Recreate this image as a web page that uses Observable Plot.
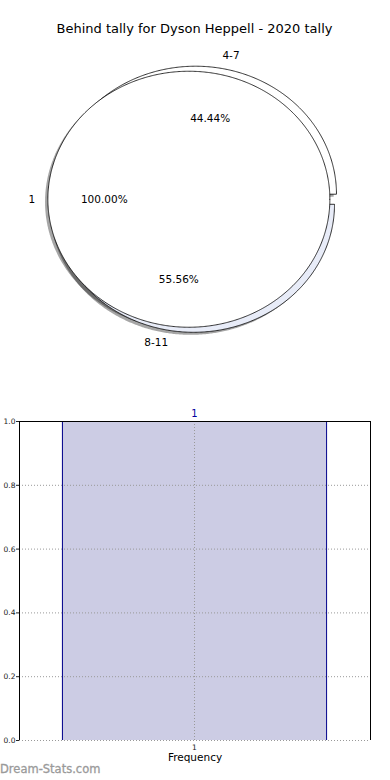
<!DOCTYPE html>
<html><head><meta charset="utf-8">
<script src="https://cdn.jsdelivr.net/npm/d3@7"></script>
<script src="https://cdn.jsdelivr.net/npm/@observablehq/plot@0.6"></script>
<style>
body{margin:0;background:#fff;font-family:"DejaVu Sans",sans-serif;}
#wrap{position:relative;width:390px;height:780px;overflow:hidden;}
#title{position:absolute;top:21px;left:0;width:389px;text-align:center;font-size:13px;color:#000;}
#pie{position:absolute;top:0;left:0;}
#bar{position:absolute;top:400px;left:0;}
#wm{position:absolute;top:762px;left:0;font-size:11.5px;color:#9a9a9a;font-weight:normal;-webkit-text-stroke:0.3px #9a9a9a;}
</style></head><body>
<div id="wrap"><div id="pie"></div><div id="title">Behind tally for Dyson Heppell - 2020 tally</div><div id="bar"></div><div id="wm">Dream-Stats.com</div></div>
<script>
// ---- data ----
const outerLabels = ["4-7", "8-11"];
const outerValues = [4, 5];
const innerLabels = ["1"];
const innerValues = [1];
const barCategories = ["1"];
const barFrequencies = [1];
const yTicks = [0, 0.2, 0.4, 0.6, 0.8, 1.0];

// ---- styles ----
const outerFills = ["#ffffff", "#e8ecf8"];
const innerFills = ["#ffffff"];
const EXPLODE = 0.04, RADIUS = 1, SHADOW = 0.02;

function wedges(labels, values, fills, tag) {
  const total = d3.sum(values);
  let a = 0;
  return labels.map((lab, i) => {
    const span = values[i] / total * 360;
    const a0 = a, a1 = a + span; a = a1;
    const mid = (a0 + a1) / 2 * Math.PI / 180;
    return {key: tag + i, label: lab, pct: values[i] / total * 100, a0, a1, mid,
      cx: EXPLODE * Math.cos(mid), cy: EXPLODE * Math.sin(mid), fill: fills[i]};
  });
}
function poly(w, ox = 0, oy = 0) {
  const pts = [];
  const full = w.a1 - w.a0 >= 359.999;
  const cx = w.cx + ox, cy = w.cy + oy;
  if (!full) pts.push({x: cx, y: cy});
  for (let t = w.a0; t <= w.a1 + 1e-9; t += 0.5) {
    const r = t * Math.PI / 180;
    pts.push({x: cx + RADIUS * Math.cos(r), y: cy + RADIUS * Math.sin(r)});
  }
  const r1 = w.a1 * Math.PI / 180;
  pts.push({x: cx + RADIUS * Math.cos(r1), y: cy + RADIUS * Math.sin(r1)});
  pts.push(full ? pts[0] : {x: cx, y: cy});
  return pts;
}
const outer = wedges(outerLabels, outerValues, outerFills, "o");
const inner = wedges(innerLabels, innerValues, innerFills, "i");
const all = [...outer, ...inner];

const shadowMarks = all.map(w => Plot.line(poly(w, -SHADOW, -SHADOW), {x: "x", y: "y", fill: "#000", fillOpacity: 0.35, stroke: "none", curve: "linear"}));
const wedgeMarks = all.map(w => Plot.line(poly(w), {x: "x", y: "y", fill: w.fill, stroke: "#000", strokeWidth: 0.8, curve: "linear"}));

const labelData = all.map(w => ({
  label: w.label,
  x: w.cx + 1.1 * Math.cos(w.mid), y: w.cy + 1.1 * Math.sin(w.mid),
  anchor: Math.cos(w.mid) > 0 ? "start" : "end"
}));
const pctData = all.map(w => ({
  label: w.pct.toFixed(2) + "%",
  x: w.cx + 0.6 * Math.cos(w.mid), y: w.cy + 0.6 * Math.sin(w.mid)
}));

const pie = Plot.plot({
  width: 390, height: 380, margin: 0,
  style: {fontFamily: "DejaVu Sans", background: "transparent"},
  x: {domain: [-194 / 141, 196 / 141], axis: null},
  y: {domain: [(198.75 - 380) / 128, 198.75 / 128], axis: null},
  marks: [
    ...shadowMarks,
    ...wedgeMarks,
    Plot.text(labelData.filter(d => d.anchor === "start"), {x: "x", y: "y", text: "label", textAnchor: "start", fontSize: 10.5, fill: "#000"}),
    Plot.text(labelData.filter(d => d.anchor === "end"), {x: "x", y: "y", text: "label", textAnchor: "end", fontSize: 10.5, fill: "#000", dx: 1.5}),
    Plot.text(pctData, {x: "x", y: "y", text: "label", fontSize: 10.5, fill: "#000"})
  ]
});
document.getElementById("pie").appendChild(pie);

// ---- bar chart ----
const barData = barCategories.map((c, i) => ({cat: c, pos: i + 1, f: barFrequencies[i]}));
const xDom = [0.47, 1.533];
const bar = Plot.plot({
  width: 390, height: 380,
  marginTop: 21, marginBottom: 40, marginLeft: 19, marginRight: 20,
  style: {fontFamily: "DejaVu Sans", background: "transparent"},
  x: {domain: xDom, axis: null},
  y: {domain: [0, 1], axis: null},
  marks: [
    Plot.rectY(barData, {x1: d => d.pos - 0.4, x2: d => d.pos + 0.4, y1: 0, y2: "f", fill: "#ccccE4"}),
    Plot.ruleX(barData, {x: d => d.pos - 0.4, y1: 0, y2: "f", stroke: "#00008b", strokeWidth: 1}),
    Plot.ruleX(barData, {x: d => d.pos + 0.4, y1: 0, y2: "f", stroke: "#00008b", strokeWidth: 1}),
    Plot.gridY(yTicks.slice(0, -1), {stroke: "#999", strokeOpacity: 1, strokeDasharray: "1,2", strokeWidth: 1}),
    Plot.gridX(barData.map(d => d.pos), {stroke: "#999", strokeOpacity: 1, strokeDasharray: "1,2", strokeWidth: 1}),
    Plot.ruleX(xDom, {stroke: "#000", strokeWidth: 1}),
    Plot.ruleY([1], {stroke: "#000", strokeWidth: 1}),
    Plot.axisY({ticks: yTicks, tickFormat: d3.format(".1f"), tickSize: 3, tickPadding: 1, fontSize: 7.5, label: null, color: "#222"}),
    Plot.axisX({anchor: "bottom", ticks: barData.map(d => d.pos), tickFormat: d => barCategories[d - 1], tickSize: 0, tickPadding: 4, fontSize: 7.5, label: null, color: "#222"}),
    Plot.axisX({anchor: "top", ticks: barData.map(d => d.pos), tickFormat: d => barCategories[d - 1], tickSize: 0, tickPadding: 5, fontSize: 10, label: null, color: "#0000a0"}),
    Plot.text(["Frequency"], {frameAnchor: "bottom", dy: 20, text: d => d, fontSize: 10.5, fill: "#000"})
  ]
});
document.getElementById("bar").appendChild(bar);
</script>
</body></html>
